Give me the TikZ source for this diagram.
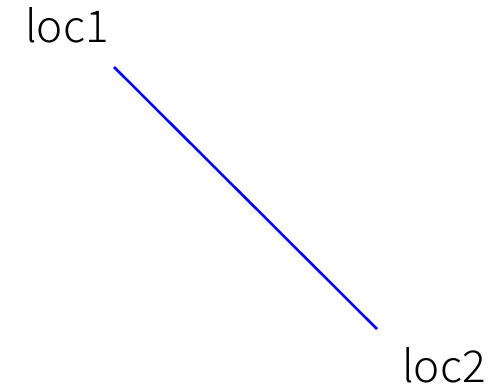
\documentclass[tikz,border=0pt]{standalone}
\usepackage{fontspec}
\setmainfont{Noto Sans CJK SC Light}
\usetikzlibrary{positioning}
\definecolor{lineblue}{RGB}{0,0,255}

\begin{document}
\begin{tikzpicture}[x=0.75pt, y=-0.75pt,
  loclabel/.style={anchor=base west, inner sep=0pt, font=\fontsize{33}{38}\selectfont}]
  \useasboundingbox (0,0) rectangle (503,389);
  \node[loclabel] (loc1) at (25,42) {loc1};
  \node[loclabel] (loc2) at (402,382) {loc2};
  \coordinate (p1) at (114,67);
  \coordinate (p2) at (377,329);
  \draw[lineblue, line width=1.9pt] (p1) -- (p2);
\end{tikzpicture}
\end{document}
